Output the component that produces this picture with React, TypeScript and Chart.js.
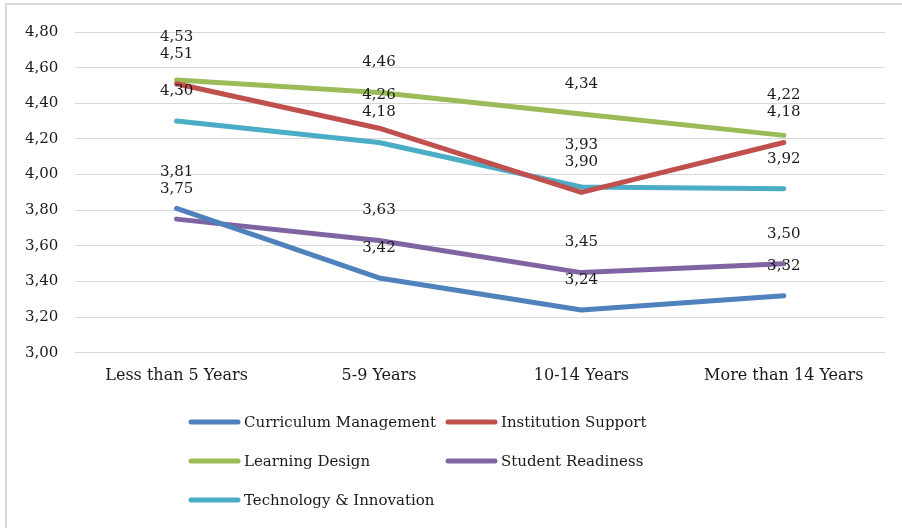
import React, { useEffect, useRef } from "react";
import { Chart, registerables } from "chart.js";

Chart.register(...registerables);

const categories = ["Less than 5 Years", "5-9 Years", "10-14 Years", "More than 14 Years"];
const seriesNames = [
  "Curriculum Management",
  "Institution Support",
  "Learning Design",
  "Student Readiness",
  "Technology & Innovation",
];
const curriculumManagement = [3.81, 3.42, 3.24, 3.32];
const institutionSupport = [4.51, 4.26, 3.9, 4.18];
const learningDesign = [4.53, 4.46, 4.34, 4.22];
const studentReadiness = [3.75, 3.63, 3.45, 3.5];
const technologyInnovation = [4.3, 4.18, 3.93, 3.92];
const seriesColors = ["#4F81BD", "#C0504D", "#9BBB59", "#8064A2", "#4BACC6"];
const yMin = 3.0;
const yMax = 4.8;
const yStep = 0.2;

const FONT = "'DejaVu Serif', serif";
const fmt = (v: number) => v.toFixed(2).replace(".", ",");

const framePlugin = {
  id: "frame",
  beforeDraw(chart: any) {
    const ctx = chart.ctx;
    ctx.save();
    ctx.fillStyle = "#ffffff";
    ctx.fillRect(0, 0, chart.width, chart.height);
    ctx.strokeStyle = "#D9D9D9";
    ctx.lineWidth = 2;
    ctx.beginPath();
    ctx.moveTo(6, chart.height);
    ctx.lineTo(6, 4);
    ctx.lineTo(chart.width, 4);
    ctx.stroke();
    ctx.restore();
  },
};

const labelPlugin = {
  id: "valueLabels",
  afterDatasetsDraw(chart: any) {
    const ctx = chart.ctx;
    ctx.save();
    ctx.font = `15px ${FONT}`;
    ctx.fillStyle = "#1a1a1a";
    ctx.textAlign = "center";
    ctx.textBaseline = "middle";
    const gap = 17;
    const n = chart.data.labels.length;
    for (let c = 0; c < n; c++) {
      const items: any[] = [];
      chart.data.datasets.forEach((ds: any, di: number) => {
        const el = chart.getDatasetMeta(di).data[c];
        items.push({ x: el.x, y: el.y - 30, text: fmt(ds.data[c]) });
      });
      items.sort((a, b) => a.y - b.y);
      for (let k = items.length - 2; k >= 0; k--) {
        if (items[k + 1].y - items[k].y < gap) items[k].y = items[k + 1].y - gap;
      }
      items.forEach((it) => ctx.fillText(it.text, it.x, it.y));
    }
    ctx.restore();
  },
};

const legendPlugin = {
  id: "customLegend",
  afterDraw(chart: any) {
    const ctx = chart.ctx;
    ctx.save();
    ctx.font = `15px ${FONT}`;
    ctx.textBaseline = "middle";
    ctx.textAlign = "left";
    const colX = [189, 446];
    const rowY = [422, 461, 500];
    chart.data.datasets.forEach((ds: any, i: number) => {
      const x = colX[i % 2];
      const y = rowY[Math.floor(i / 2)];
      ctx.strokeStyle = ds.borderColor;
      ctx.lineWidth = 5;
      ctx.lineCap = "round";
      ctx.beginPath();
      ctx.moveTo(x + 2, y);
      ctx.lineTo(x + 49, y);
      ctx.stroke();
      ctx.fillStyle = "#1a1a1a";
      ctx.fillText(ds.label, x + 55, y + 1);
    });
    ctx.restore();
  },
};

export default function App() {
  const ref = useRef<HTMLCanvasElement>(null);
  useEffect(() => {
    if (!ref.current) return;
    const values = [
      curriculumManagement,
      institutionSupport,
      learningDesign,
      studentReadiness,
      technologyInnovation,
    ];
    const chart = new Chart(ref.current, {
      type: "line",
      data: {
        labels: categories,
        datasets: seriesNames.map((name, i) => ({
          label: name,
          data: values[i],
          borderColor: seriesColors[i],
          backgroundColor: seriesColors[i],
          borderWidth: 5,
          borderCapStyle: "round" as const,
          borderJoinStyle: "round" as const,
          pointRadius: 0,
          pointHoverRadius: 0,
          tension: 0,
          fill: false,
        })),
      },
      options: {
        animation: false,
        responsive: false,
        maintainAspectRatio: false,
        layout: { padding: { left: 8, right: 17, top: 32, bottom: 130 } },
        plugins: {
          legend: { display: false },
          tooltip: { enabled: false },
        },
        scales: {
          x: {
            offset: true,
            grid: { display: false, drawTicks: false },
            border: { display: false },
            ticks: {
              color: "#1a1a1a",
              font: { family: FONT, size: 16 },
              padding: 13,
              maxRotation: 0,
            },
          },
          y: {
            min: yMin,
            max: yMax,
            grid: { color: "#D9D9D9", lineWidth: 1, drawTicks: false },
            border: { display: false },
            ticks: {
              stepSize: yStep,
              color: "#1a1a1a",
              font: { family: FONT, size: 15 },
              padding: 17,
              callback: (v: any) => fmt(Number(v)),
            },
          },
        },
      },
      plugins: [framePlugin, labelPlugin, legendPlugin],
    });
    return () => chart.destroy();
  }, []);
  return (
    <div style={{ position: "absolute", left: 0, top: 0, width: 902, height: 528 }}>
      <canvas ref={ref} width={902} height={528} style={{ width: 902, height: 528 }} />
    </div>
  );
}
